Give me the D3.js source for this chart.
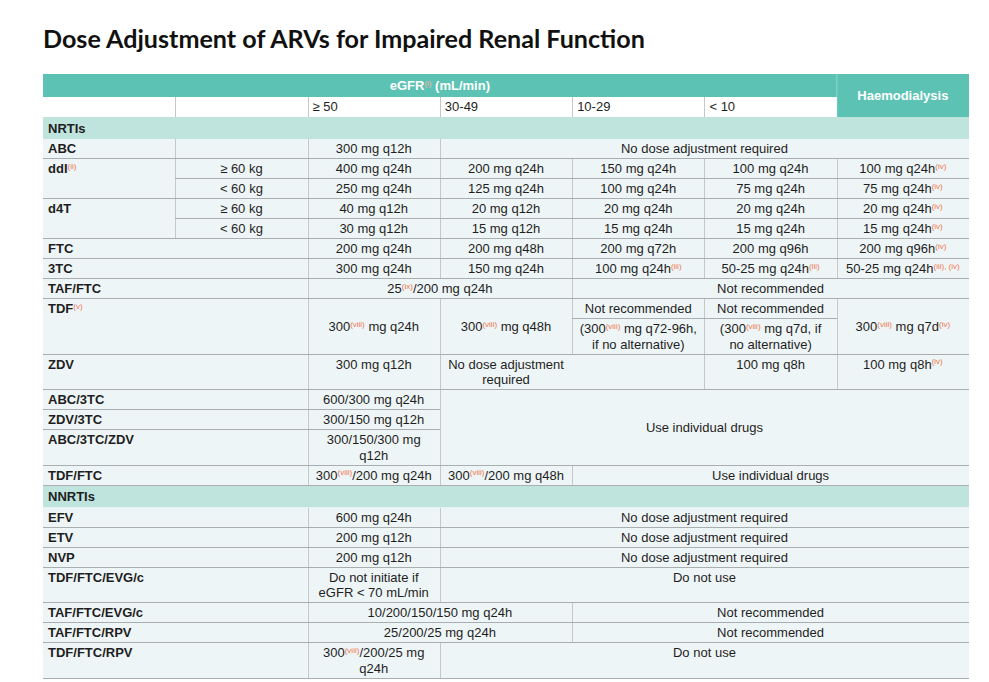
<!DOCTYPE html>
<html><head><meta charset="utf-8">
<script src="https://cdn.jsdelivr.net/npm/d3@7"></script>
<style>body{margin:0;background:#fff;} svg{display:block}</style>
</head><body><svg id="c" width="989" height="682"></svg>
<script>
// ---------------- DATA ----------------
const title = "Dose Adjustment of ARVs for Impaired Renal Function";
const eGFRLabel = "eGFR[(i)] (mL/min)";
const dialysisLabel = "Haemodialysis";
const eGFRBands = ["≥ 50", "30-49", "10-29", "< 10"];
// "<" merges with the cell on the left, "^" with the cell above, "=" merges left but keeps text centred on its own column.
// "|" breaks a line, "[..]" is a superscript note.
const nrtiRows = [
  ["ABC", "", "300 mg q12h", "No dose adjustment required", "<", "<", "<"],
  ["ddI[(ii)]", "≥ 60 kg", "400 mg q24h", "200 mg q24h", "150 mg q24h", "100 mg q24h", "100 mg q24h[(iv)]"],
  ["^", "< 60 kg", "250 mg q24h", "125 mg q24h", "100 mg q24h", "75 mg q24h", "75 mg q24h[(iv)]"],
  ["d4T", "≥ 60 kg", "40 mg q12h", "20 mg q12h", "20 mg q24h", "20 mg q24h", "20 mg q24h[(iv)]"],
  ["^", "< 60 kg", "30 mg q12h", "15 mg q12h", "15 mg q24h", "15 mg q24h", "15 mg q24h[(iv)]"],
  ["FTC", "<", "200 mg q24h", "200 mg q48h", "200 mg q72h", "200 mg q96h", "200 mg q96h[(iv)]"],
  ["3TC", "<", "300 mg q24h", "150 mg q24h", "100 mg q24h[(iii)]", "50-25 mg q24h[(iii)]", "50-25 mg q24h[(iii), (iv)]"],
  ["TAF/FTC", "<", "25[(ix)]/200 mg q24h", "<", "Not recommended", "<", "<"],
  ["TDF[(v)]", "<", "300[(viii)] mg q24h", "300[(viii)] mg q48h", "Not recommended", "Not recommended", "300[(viii)] mg q7d[(iv)]"],
  ["^", "^", "^", "^", "(300[(viii)] mg q72-96h,|if no alternative)", "(300[(viii)] mg q7d, if|no alternative)", "^"],
  ["ZDV", "<", "300 mg q12h", "No dose adjustment|required", "=", "100 mg q8h", "100 mg q8h[(iv)]"],
  ["ABC/3TC", "<", "600/300 mg q24h", "Use individual drugs", "<", "<", "<"],
  ["ZDV/3TC", "<", "300/150 mg q12h", "^", "^", "^", "^"],
  ["ABC/3TC/ZDV", "<", "300/150/300 mg|q12h", "^", "^", "^", "^"],
  ["TDF/FTC", "<", "300[(viii)]/200 mg q24h", "300[(viii)]/200 mg q48h", "Use individual drugs", "<", "<"]
];
const nnrtiRows = [
  ["EFV", "<", "600 mg q24h", "No dose adjustment required", "<", "<", "<"],
  ["ETV", "<", "200 mg q12h", "No dose adjustment required", "<", "<", "<"],
  ["NVP", "<", "200 mg q12h", "No dose adjustment required", "<", "<", "<"],
  ["TDF/FTC/EVG/c", "<", "Do not initiate if|eGFR < 70 mL/min", "Do not use", "<", "<", "<"],
  ["TAF/FTC/EVG/c", "<", "10/200/150/150 mg q24h", "<", "Not recommended", "<", "<"],
  ["TAF/FTC/RPV", "<", "25/200/25 mg q24h", "<", "Not recommended", "<", "<"],
  ["TDF/FTC/RPV", "<", "300[(viii)]/200/25 mg|q24h", "Do not use", "<", "<", "<"]
];
const sections = [["NRTIs", nrtiRows], ["NNRTIs", nnrtiRows]];

// ---------------- LAYOUT ----------------
const svg = d3.select("#c");
const C = {teal:"#5cc3b4", sec:"#bfe3dd", body:"#eef5f6", hline:"#a9afb1", vline:"#c4c8c9",
           text:"#1e1e1e", sup:"#ef7550", supHead:"#f6b6a2"};
const FONT = "'Liberation Sans', Arial, sans-serif";

const grid = [];
grid.push({kind:"h1", cells:[eGFRLabel, "<", "<", "<", "<", "<", dialysisLabel]});
grid.push({kind:"h2", cells:["", "", ...eGFRBands, "^"]});
sections.forEach(([name, rows]) => {
  grid.push({kind:"sec", cells:[name, "<", "<", "<", "<", "<", "<"]});
  rows.forEach(r => grid.push({kind:"data", cells:r}));
});

const owner = grid.map(() => new Array(7));
const cells = [];
grid.forEach((row, r) => row.cells.forEach((t, c) => {
  let cell;
  if (t === "<" || t === "=") { cell = owner[r][c - 1]; if (t === "<") cell.tc1 = c; }
  else if (t === "^") cell = owner[r - 1][c];
  else { cell = {text:t, r0:r, r1:r, c0:c, c1:c, tc0:c, tc1:c, kind:row.kind}; cells.push(cell); }
  owner[r][c] = cell;
  cell.r1 = Math.max(cell.r1, r); cell.c1 = Math.max(cell.c1, c);
}));

const nLines = t => t.split("|").length;
const rowH = grid.map((row, r) => {
  if (row.kind === "h1") return 23;
  if (row.kind === "h2") return 20;
  if (row.kind === "sec") return 22;
  const single = cells.filter(c => c.r0 === r && c.r1 === r);
  const lines = d3.max(single, c => nLines(c.text)) || 1;
  return 4.5 + 15.5 * lines;
});
const yEdges = [74, ...d3.cumsum(rowH).map(v => 74 + v)];
const x = d3.scaleBand().domain(d3.range(7)).range([43, 969]).paddingInner(0);
const bw = x.bandwidth();
const cx0 = c => x(c.c0), cx1 = c => x(c.c1) + bw;
const cy0 = c => yEdges[c.r0], cy1 = c => yEdges[c.r1 + 1];

// title
const tt = svg.append("text").attr("x", 43).attr("y", 48)
  .attr("font-family", "Lato, 'Open Sans', sans-serif").attr("font-weight", 700)
  .attr("font-size", 24).attr("fill", "#111").text(title);
const tw = tt.node().getComputedTextLength();
tt.attr("font-size", 24 * 602 / tw);

// fills
const fillOf = c => {
  if (c.kind === "h1") return C.teal;
  if (c.kind === "h2") return "#ffffff";
  if (c.kind === "sec") return C.sec;
  return C.body;
};
svg.append("g").selectAll("rect").data(cells).join("rect")
  .attr("x", cx0).attr("y", cy0)
  .attr("width", c => cx1(c) - cx0(c)).attr("height", c => cy1(c) - cy0(c))
  .attr("fill", fillOf);

// borders
const lines = svg.append("g").attr("shape-rendering", "crispEdges");
cells.filter(c => (c.kind === "data" || c.kind === "h2") && c.c1 < 6).forEach(c => {
  lines.append("line").attr("x1", Math.round(cx1(c)) + 0.5).attr("x2", Math.round(cx1(c)) + 0.5)
    .attr("y1", cy0(c)).attr("y2", cy1(c)).attr("stroke", C.vline).attr("stroke-width", 1);
});
cells.filter(c => c.kind === "data").forEach(c => {
  lines.append("line").attr("x1", cx0(c)).attr("x2", cx1(c))
    .attr("y1", Math.round(cy1(c)) - 0.5).attr("y2", Math.round(cy1(c)) - 0.5)
    .attr("stroke", C.hline).attr("stroke-width", 1);
});
// subtle edge between eGFR header and haemodialysis header
lines.append("line").attr("x1", Math.round(x(6)) + 0.5).attr("x2", Math.round(x(6)) + 0.5)
  .attr("y1", yEdges[0]).attr("y2", yEdges[2]).attr("stroke", "#6ccabc");

// text
const tg = svg.append("g").attr("font-family", FONT).attr("font-size", 13);
function writeRich(textSel, str, supColor) {
  const parts = str.split(/(\[[^\]]*\])/).filter(s => s.length);
  let raised = false;
  parts.forEach(p => {
    if (p.startsWith("[")) {
      textSel.append("tspan").attr("font-size", 8).attr("fill", supColor)
        .attr("font-weight", 400).attr("dy", -4.5).text(p.slice(1, -1));
      raised = true;
    } else {
      const ts = textSel.append("tspan").text(p);
      if (raised) { ts.attr("dy", 4.5); raised = false; }
    }
  });
}
cells.forEach(c => {
  if (!c.text) return;
  const ls = c.text.split("|");
  let anchor = "middle", tx, bold = false, fill = C.text, supColor = C.sup, valign = "top";
  if (c.kind === "h1") { bold = true; fill = "#ffffff"; supColor = C.supHead; valign = "mid"; tx = (cx0(c) + cx1(c)) / 2; }
  else if (c.kind === "h2") { anchor = "start"; tx = cx0(c) + 5; }
  else if (c.kind === "sec") { bold = true; anchor = "start"; tx = cx0(c) + 5; valign = "mid"; }
  else if (c.c0 === 0) { bold = true; anchor = "start"; tx = cx0(c) + 5; }
  else {
    tx = (x(c.tc0) + x(c.tc1) + bw) / 2;
    if (c.r1 > c.r0) valign = "mid";
  }
  const lh = 15.5;
  const base0 = valign === "top" ? cy0(c) + 14
    : (cy0(c) + cy1(c)) / 2 + 4.5 - (ls.length - 1) * lh / 2;
  ls.forEach((l, i) => {
    const t = tg.append("text").attr("x", tx).attr("y", base0 + i * lh)
      .attr("text-anchor", anchor).attr("fill", fill)
      .attr("font-weight", bold ? 700 : 400);
    writeRich(t, l, supColor);
  });
});
</script>
</body></html>
